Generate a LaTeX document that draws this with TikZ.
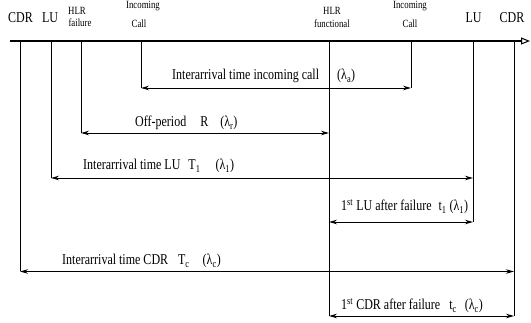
\documentclass[tikz,border=0pt]{standalone}
\usepackage{fontspec}
\setmainfont{Liberation Serif}
\newfontfamily\labf[FakeStretch=0.8]{Liberation Serif}
\usetikzlibrary{arrows.meta}
\tikzset{
  axisline/.style={line width=1.6pt,-{Triangle[open,length=9pt,width=7pt,line width=1pt]}},
  evline/.style={line width=0.7pt},
  span/.style={line width=0.9pt,{Stealth[length=8pt,width=4.5pt]}-{Stealth[length=8pt,width=4.5pt]}},
  lab/.style={font={\labf\fontsize{15}{18}\selectfont}, inner sep=0pt, anchor=base west},
  toplab/.style={font={\labf\fontsize{15}{18}\selectfont}, inner sep=0pt, anchor=base},
  smalllab/.style={font={\labf\fontsize{11}{13}\selectfont}, inner sep=0pt, anchor=base},
}
\begin{document}
\begin{tikzpicture}[x=1pt,y=-1pt]
\useasboundingbox (0,0) rectangle (531,323);
% axis
\coordinate (ax0) at (10,41);
\coordinate (ax1) at (530,41);
\draw[axisline] (ax0) -- (ax1);
% events on the axis
\coordinate (cdrL) at (20,41);
\coordinate (luL) at (51,41);
\coordinate (hlrF) at (81,41);
\coordinate (incL) at (141,41);
\coordinate (hlrOn) at (329,41);
\coordinate (incR) at (411,41);
\coordinate (luR) at (473,41);
\coordinate (cdrR) at (514,41);
% lower ends
\coordinate (incL-b) at (141,88);
\coordinate (incR-b) at (411,88);
\coordinate (hlrF-b) at (81,133);
\coordinate (hlrOn-r) at (329,133);
\coordinate (luL-b) at (51,178);
\coordinate (luR-m) at (473,178);
\coordinate (hlrOn-l) at (329,222);
\coordinate (luR-b) at (473,222);
\coordinate (cdrL-b) at (20,271.5);
\coordinate (cdrR-m) at (514,271.5);
\coordinate (hlrOn-b) at (329,316);
\coordinate (cdrR-b) at (514,316);
% vertical event lines
\draw[evline] (cdrL) -- (cdrL-b);
\draw[evline] (luL) -- (luL-b);
\draw[evline] (hlrF) -- (hlrF-b);
\draw[evline] (incL) -- (incL-b);
\draw[evline] (hlrOn) -- (hlrOn-b);
\draw[evline] (incR) -- (incR-b);
\draw[evline] (luR) -- (luR-b);
\draw[evline] (cdrR) -- (cdrR-b);
% spans
\draw[span] (incL-b) -- (incR-b);
\draw[span] (hlrF-b) -- (hlrOn-r);
\draw[span] (luL-b) -- (luR-m);
\draw[span] (hlrOn-l) -- (luR-b);
\draw[span] (cdrL-b) -- (cdrR-m);
\draw[span] (hlrOn-b) -- (cdrR-b);
% top labels
\node[toplab] (tcdrL) at (20.5,23) {CDR};
\node[toplab] (tluL) at (50,23) {LU};
\node[smalllab] (thlrF1) at (77,15) {HLR};
\node[smalllab] (thlrF2) at (80,27) {failure};
\node[smalllab] (tincL1) at (143,9) {Incoming};
\node[smalllab] (tincL2) at (139,28) {Call};
\node[smalllab] (thlrOn1) at (332,15) {HLR};
\node[smalllab] (thlrOn2) at (332,28) {functional};
\node[smalllab] (tincR1) at (410,9) {Incoming};
\node[smalllab] (tincR2) at (410,28) {Call};
\node[toplab] (tluR) at (473.5,23) {LU};
\node[toplab] (tcdrR) at (512,23) {CDR};
% span labels
\node[lab] (linc) at (172,80) {Interarrival time incoming call};
\node[lab] (lince) at (337,80) {(λ\textsubscript{a})};
\node[lab] (loff) at (135,127) {Off-period\hspace{14pt}R\hspace{12pt}(λ\textsubscript{r})};
\node[lab] (llu) at (83,170) {Interarrival time LU\hspace{8pt}T\textsubscript{1}\hspace{15pt}(λ\textsubscript{1})};
\node[lab] (llu1) at (341,211) {1\textsuperscript{st} LU after failure\hspace{7pt}t\textsubscript{1} (λ\textsubscript{1})};
\node[lab] (lcdr) at (62,265) {Interarrival time CDR\hspace{10pt}T\textsubscript{c}\hspace{13pt}(λ\textsubscript{c})};
\node[lab] (lcdr1) at (341,310) {1\textsuperscript{st} CDR after failure\hspace{9pt}t\textsubscript{c}\hspace{8pt}(λ\textsubscript{c})};
\end{tikzpicture}
\end{document}
